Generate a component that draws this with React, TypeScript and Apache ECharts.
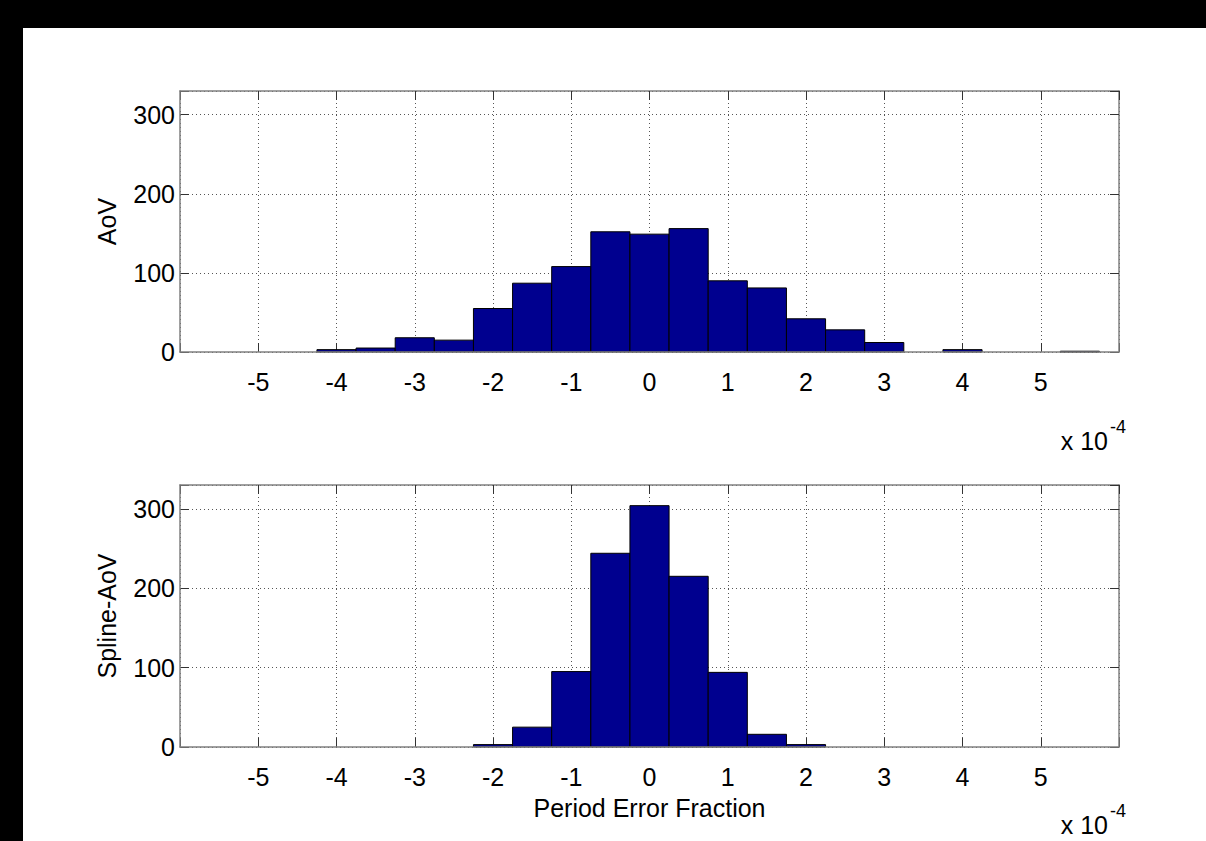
import React, { useEffect, useRef } from "react";
import * as echarts from "echarts";

// Histogram bin centres (units of 1e-4)
const binCenters = [-4, -3.5, -3, -2.5, -2, -1.5, -1, -0.5, 0, 0.5, 1, 1.5, 2, 2.5, 3, 3.5, 4, 4.5, 5, 5.5];
// Counts per bin
const aovCounts = [3, 5, 18, 15, 55, 87, 108, 152, 149, 156, 90, 81, 42, 28, 12, 0, 3, 0, 0, 1];
const splineAovCounts = [0, 0, 0, 0, 3, 25, 95, 244, 304, 215, 94, 16, 3, 0, 0, 0, 0, 0, 0, 0];
const xTickLabels = ["-5", "-4", "-3", "-2", "-1", "0", "1", "2", "3", "4", "5"];
const yTickLabels = ["0", "100", "200", "300"];

const BIN_WIDTH = 0.5;
const X_MIN = -6;
const X_MAX = 6;
const Y_MAX = 330;

const FONT = "'Liberation Sans', Arial, Helvetica, sans-serif";
const FS = 25;
const BAR_FILL = "#00008F";
const FRAME = "#808080";

function renderBar(params: any, api: any) {
  const x = api.value(0);
  const y = api.value(1);
  if (!(y > 0)) return null;
  const p0 = api.coord([x - BIN_WIDTH / 2, y]);
  const p1 = api.coord([x + BIN_WIDTH / 2, 0]);
  return {
    type: "rect",
    shape: { x: p0[0], y: p0[1], width: p1[0] - p0[0], height: p1[1] - p0[1] },
    style: { fill: BAR_FILL, stroke: "#000", lineWidth: 1 },
  };
}

export default function App() {
  const ref = useRef<HTMLDivElement>(null);
  useEffect(() => {
    document.body.style.margin = "0";
    if (!ref.current) return;
    const chart = echarts.init(ref.current, null, { renderer: "svg" });

    const gridLine = { show: true, lineStyle: { color: "#555", type: [1, 3] as any, width: 1 } };
    const frameLine = { show: true, onZero: false, lineStyle: { color: FRAME, width: 1.5 } };
    const tick = { show: true, inside: true, length: 9, lineStyle: { color: "#333" } };
    const xMain = (gridIndex: number, name?: string) => ({
      type: "value",
      gridIndex,
      position: "bottom",
      min: X_MIN,
      max: X_MAX,
      interval: 1,
      name: name || "",
      nameLocation: "middle",
      nameGap: 48,
      nameTextStyle: { fontFamily: FONT, fontSize: FS, color: "#000" },
      axisLine: { show: false, onZero: false },
      axisTick: tick,
      axisLabel: {
        margin: 17,
        fontFamily: FONT,
        fontSize: FS,
        color: "#000",
        formatter: (v: number) => (xTickLabels.includes(String(v)) ? String(v) : ""),
      },
      splitLine: gridLine,
      z: 0,
    });
    const xTop = (gridIndex: number) => ({
      type: "value",
      gridIndex,
      position: "top",
      min: X_MIN,
      max: X_MAX,
      interval: 1,
      axisLine: frameLine,
      axisTick: tick,
      axisLabel: { show: false },
      splitLine: { show: false },
      z: 2,
    });
    const yMain = (gridIndex: number, name: string) => ({
      type: "value",
      gridIndex,
      position: "left",
      min: 0,
      max: Y_MAX,
      interval: 100,
      name,
      nameLocation: "middle",
      nameGap: 61,
      nameTextStyle: { fontFamily: FONT, fontSize: FS, color: "#000" },
      axisLine: { show: false, onZero: false },
      axisTick: tick,
      axisLabel: {
        margin: 5,
        fontFamily: FONT,
        fontSize: FS,
        color: "#000",
        formatter: (v: number) => (yTickLabels.includes(String(v)) ? String(v) : ""),
      },
      splitLine: gridLine,
      z: 0,
    });
    const yRight = (gridIndex: number) => ({
      type: "value",
      gridIndex,
      position: "right",
      min: 0,
      max: Y_MAX,
      interval: 100,
      axisLine: frameLine,
      axisTick: tick,
      axisLabel: { show: false },
      splitLine: { show: false },
      z: 2,
    });
    // left and bottom frame edges drawn on top of the bars' baseline
    const xFrame = (gridIndex: number) => ({
      type: "value",
      gridIndex,
      position: "bottom",
      min: X_MIN,
      max: X_MAX,
      axisLine: frameLine,
      axisTick: { show: false },
      axisLabel: { show: false },
      splitLine: { show: false },
      z: 4,
    });
    const yFrame = (gridIndex: number) => ({
      type: "value",
      gridIndex,
      position: "left",
      min: 0,
      max: Y_MAX,
      axisLine: frameLine,
      axisTick: { show: false },
      axisLabel: { show: false },
      splitLine: { show: false },
      z: 4,
    });

    const exponent = (centerY: number) => [
      {
        type: "text",
        x: 1085,
        y: centerY,
        style: { text: "x 10", fontFamily: FONT, fontSize: FS, fill: "#000", align: "right", verticalAlign: "middle" },
      },
      {
        type: "text",
        x: 1087,
        y: centerY - 14,
        style: { text: "-4", fontFamily: FONT, fontSize: 18, fill: "#000", align: "left", verticalAlign: "middle" },
      },
    ];

    chart.setOption({
      animation: false,
      backgroundColor: "#fff",
      grid: [
        { left: 157, top: 63, width: 939, height: 261, show: false },
        { left: 157, top: 457, width: 939, height: 262, show: false },
      ],
      xAxis: [xMain(0), xTop(0), xMain(1, "Period Error Fraction"), xTop(1), xFrame(0), xFrame(1)],
      yAxis: [yMain(0, "AoV"), yRight(0), yMain(1, "Spline-AoV"), yRight(1), yFrame(0), yFrame(1)],
      graphic: [...exponent(413), ...exponent(797)],
      series: [
        {
          type: "custom",
          name: "AoV",
          xAxisIndex: 0,
          yAxisIndex: 0,
          renderItem: renderBar,
          encode: { x: 0, y: 1 },
          data: binCenters.map((c, i) => [c, aovCounts[i]]),
          z: 3,
        },
        {
          type: "custom",
          name: "Spline-AoV",
          xAxisIndex: 2,
          yAxisIndex: 2,
          renderItem: renderBar,
          encode: { x: 0, y: 1 },
          data: binCenters.map((c, i) => [c, splineAovCounts[i]]),
          z: 3,
        },
      ],
    });
    return () => chart.dispose();
  }, []);

  return (
    <div style={{ position: "relative", width: 1206, height: 841, background: "#000" }}>
      <div
        ref={ref}
        style={{ position: "absolute", left: 23, top: 28, width: 1183, height: 813, background: "#fff" }}
      />
    </div>
  );
}
